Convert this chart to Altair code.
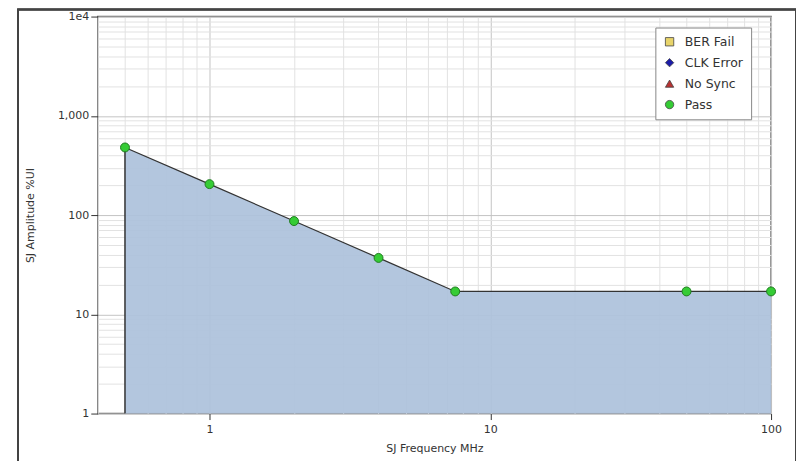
import altair as alt
import pandas as pd

# Data
freq_mhz = [0.5, 1.0, 2.0, 4.0, 7.5, 50.0, 100.0]
amp_ui = [480, 205, 87, 37, 17, 17, 17]
status = ["Pass"] * len(freq_mhz)

legend_cats = ["BER Fail", "CLK Error", "No Sync", "Pass"]
legend_fill = ["#e8d46a", "#1c1ca8", "#b83232", "#35cc35"]
legend_shapes = ["square", "diamond", "triangle-up", "circle"]

x_ticks = [0.4, 0.5, 0.6, 0.7, 0.8, 0.9,
           1, 2, 3, 4, 5, 6, 7, 8, 9,
           10, 20, 30, 40, 50, 60, 70, 80, 90, 100]
y_ticks = [1, 2, 3, 4, 5, 6, 7, 8, 9,
           10, 20, 30, 40, 50, 60, 70, 80, 90,
           100, 200, 300, 400, 500, 600, 700, 800, 900,
           1000, 2000, 3000, 4000, 5000, 6000, 7000, 8000, 9000, 10000]
x_major = [1, 10, 100]
y_major = [1, 10, 100, 1000, 10000]
y_major_labels = ["1", "10", "100", "1,000", "1e4"]

df = pd.DataFrame({"freq": freq_mhz, "amp": amp_ui, "status": status})
df["base"] = y_major[0]
first = df.iloc[[0]]

major_x_test = " || ".join(f"datum.value == {v}" for v in x_major)
major_y_test = " || ".join(f"datum.value == {v}" for v in y_major)
ylab_expr = " : ".join(f"datum.value == {v} ? '{l}'" for v, l in zip(y_major, y_major_labels)) + " : ''"
xlab_expr = " : ".join(f"datum.value == {v} ? '{v}'" for v in x_major) + " : ''"

x_scale = alt.Scale(type="log", domain=[0.4, 100], nice=False)
y_scale = alt.Scale(type="log", domain=[1, 10000], nice=False)

x_axis = alt.Axis(
    title="SJ Frequency MHz", values=x_ticks, labelExpr=xlab_expr,
    gridColor={"condition": {"test": major_x_test, "value": "#c4c4c4"}, "value": "#e2e2e2"},
    tickColor={"condition": {"test": major_x_test, "value": "#333333"}, "value": "transparent"},
    tickSize=6, labelPadding=4, titlePadding=8, labelFlush=False,
    domain=False,
)
y_axis = alt.Axis(
    title="SJ Amplitude %UI", values=y_ticks, labelExpr=ylab_expr,
    gridColor={"condition": {"test": major_y_test, "value": "#c4c4c4"}, "value": "#e2e2e2"},
    tickColor={"condition": {"test": major_y_test, "value": "#333333"}, "value": "transparent"},
    tickSize=7, labelPadding=2, titlePadding=22, labelFlush=False,
    domain=False,
)

base = alt.Chart(df)

area = base.mark_area(color="#adc2dc", opacity=0.93, line={"color": "#333333", "strokeWidth": 1.2}).encode(
    x=alt.X("freq:Q", scale=x_scale, axis=x_axis),
    y=alt.Y("amp:Q", scale=y_scale, axis=y_axis),
    y2="base:Q",
)

edge = alt.Chart(first).mark_rule(color="#333333", strokeWidth=1.5).encode(
    x=alt.X("freq:Q", scale=x_scale),
    y=alt.Y("amp:Q", scale=y_scale),
    y2="base:Q",
)

points = base.mark_point(filled=True, size=80, stroke="#1f7a1f", strokeWidth=1, opacity=1).encode(
    x=alt.X("freq:Q", scale=x_scale),
    y=alt.Y("amp:Q", scale=y_scale),
    color=alt.Color("status:N", scale=alt.Scale(domain=legend_cats, range=legend_fill),
                    legend=alt.Legend(title=None, orient="none", legendX=559, legendY=11,
                                      padding=8, rowPadding=8,
                                      strokeColor="#888888", fillColor="white",
                                      labelFontSize=12.5, labelColor="#333333",
                                      symbolSize=70, symbolStrokeColor="#444444",
                                      symbolStrokeWidth=0.8, labelOffset=9)),
    shape=alt.Shape("status:N", scale=alt.Scale(domain=legend_cats, range=legend_shapes)),
)

frame = alt.Chart(df).mark_rect(fill=None, stroke="#444444", strokeWidth=1.5, clip=False).encode(
    x=alt.value(-80), x2=alt.value(700), y=alt.value(-7), y2=alt.value(470)
)

chart = alt.layer(frame, area, edge, points).properties(
    width=675, height=398,
    autosize=alt.AutoSizeParams(type="none"),
    padding={"left": 90, "top": 8, "right": 25, "bottom": 60},
).configure_view(stroke="#6a6a6a", strokeWidth=1.5).configure_axis(
    labelFont="DejaVu Sans", titleFont="DejaVu Sans", labelFontSize=11,
    titleFontSize=11, titleFontWeight="normal", labelColor="#333333", titleColor="#333333",
).configure_legend(labelFont="DejaVu Sans")

chart.save("out.html", embed_options={"renderer": "svg", "actions": False})
